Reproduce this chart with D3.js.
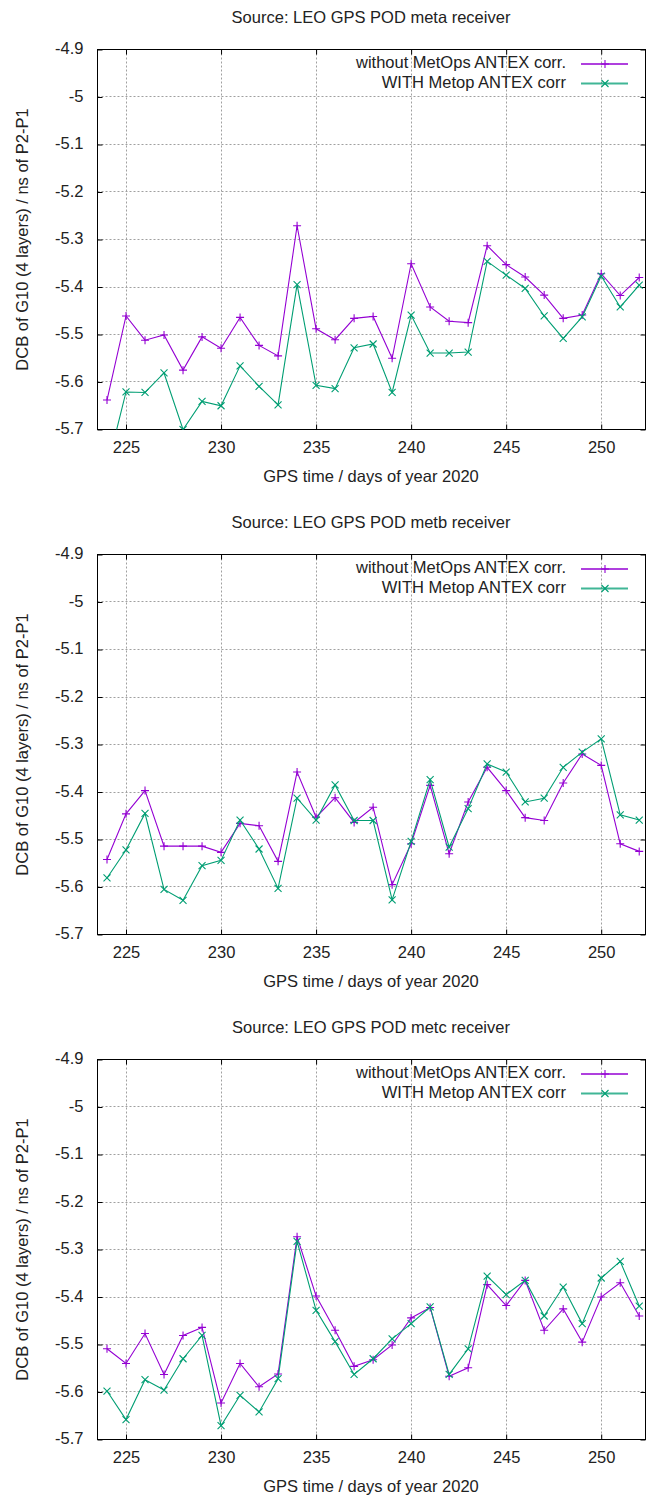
<!DOCTYPE html>
<html>
<head>
<meta charset="utf-8">
<script src="https://cdn.jsdelivr.net/npm/d3@7"></script>
<style>
  body { margin: 0; background: #fff; }
  text { font-family: "Liberation Sans", Arial, sans-serif; font-size: 16.5px; fill: #222; }
</style>
</head>
<body>
<div id="chart"></div>
<script>
// days of year 2020
const days = d3.range(224, 253);

const xTicks = [225, 230, 235, 240, 245, 250];
const yTicks = [-5.7, -5.6, -5.5, -5.4, -5.3, -5.2, -5.1, -5, -4.9];

const seriesNames = ['without MetOps ANTEX corr.', 'WITH Metop ANTEX corr'];
const receivers = ['meta', 'metb', 'metc'];

const metaWithout = [-5.638, -5.461, -5.512, -5.501, -5.575, -5.505, -5.529, -5.464, -5.523, -5.545, -5.271, -5.488, -5.511, -5.466, -5.462, -5.550, -5.351, -5.442, -5.472, -5.475, -5.313, -5.353, -5.379, -5.417, -5.466, -5.459, -5.372, -5.418, -5.380];
const metaWith = [-5.782, -5.621, -5.622, -5.581, -5.700, -5.641, -5.650, -5.566, -5.609, -5.648, -5.395, -5.607, -5.614, -5.528, -5.520, -5.622, -5.459, -5.539, -5.539, -5.537, -5.346, -5.375, -5.403, -5.461, -5.508, -5.463, -5.377, -5.442, -5.396];

const metbWithout = [-5.542, -5.446, -5.397, -5.514, -5.514, -5.514, -5.527, -5.466, -5.471, -5.546, -5.358, -5.453, -5.412, -5.464, -5.432, -5.595, -5.509, -5.386, -5.530, -5.421, -5.348, -5.397, -5.454, -5.460, -5.381, -5.320, -5.344, -5.509, -5.525];
const metbWith = [-5.581, -5.522, -5.445, -5.605, -5.628, -5.555, -5.544, -5.459, -5.520, -5.603, -5.413, -5.459, -5.385, -5.460, -5.460, -5.627, -5.504, -5.374, -5.516, -5.435, -5.341, -5.358, -5.421, -5.413, -5.348, -5.316, -5.288, -5.448, -5.459];

const metcWithout = [-5.509, -5.540, -5.477, -5.563, -5.481, -5.464, -5.623, -5.540, -5.589, -5.562, -5.273, -5.398, -5.470, -5.546, -5.532, -5.501, -5.444, -5.422, -5.567, -5.549, -5.374, -5.418, -5.365, -5.470, -5.425, -5.495, -5.400, -5.370, -5.440];
const metcWith = [-5.598, -5.658, -5.574, -5.596, -5.530, -5.481, -5.671, -5.607, -5.642, -5.572, -5.283, -5.428, -5.494, -5.563, -5.530, -5.488, -5.456, -5.421, -5.563, -5.509, -5.356, -5.395, -5.365, -5.440, -5.379, -5.456, -5.360, -5.325, -5.419];

const PURPLE = '#9400d3';
const GREEN = '#009e73';

const WIDTH = 646, HEIGHT = 1499;
const PLOT = { left: 97.5, right: 645.5, h: 380 };
const TOPS = [49.5, 554.5, 1059.5]; // top border of each panel

const svg = d3.select('#chart')
    .append('svg')
    .attr('width', WIDTH)
    .attr('height', HEIGHT);

const x = d3.scaleLinear()
    .domain([223.5, 252.33])
    .range([PLOT.left, PLOT.right]);

// little marker paths, gnuplot style
const plusPath = (s) => `M${-s},0H${s}M0,${-s}V${s}`;
const crossPath = (s) => `M${-s},${-s}L${s},${s}M${-s},${s}L${s},${-s}`;

// gnuplot writes a plain hyphen, not the unicode minus
const yFormat = d => String(+d.toFixed(1));

const drawPanel = function (i, without, withCorr) {
    const top = TOPS[i];
    const y = d3.scaleLinear()
        .domain([-5.7, -4.9])
        .range([top + PLOT.h, top]);

    const g = svg.append('g');

    // clip so that points below -5.7 are cut at the border
    g.append('clipPath')
        .attr('id', 'clip' + i)
        .append('rect')
        .attr('x', PLOT.left)
        .attr('y', top)
        .attr('width', PLOT.right - PLOT.left)
        .attr('height', PLOT.h);

    //title
    g.append('text')
        .attr('x', 371)
        .attr('y', top - 31)
        .attr('text-anchor', 'middle')
        .attr('dominant-baseline', 'middle')
        .text(`Source: LEO GPS POD ${receivers[i]} receiver`);

    // grid, dotted
    g.append('g')
        .selectAll('line')
        .data(xTicks)
        .enter().append('line')
        .attr('x1', d => Math.round(x(d)) + 0.5)
        .attr('x2', d => Math.round(x(d)) + 0.5)
        .attr('y1', top)
        .attr('y2', top + PLOT.h)
        .attr('stroke', '#a0a0a0')
        .attr('stroke-dasharray', '2,2');

    g.append('g')
        .selectAll('line')
        .data(yTicks.slice(1, -1))
        .enter().append('line')
        .attr('x1', PLOT.left)
        .attr('x2', PLOT.right)
        .attr('y1', d => Math.round(y(d) - 0.5) + 0.5)
        .attr('y2', d => Math.round(y(d) - 0.5) + 0.5)
        .attr('stroke', '#a0a0a0')
        .attr('stroke-dasharray', '2,2');

    // axes with inward ticks, mirrored on top and right
    const xAxis = d3.axisBottom(x).tickValues(xTicks).tickSize(-5).tickFormat(d3.format('d'));
    const yAxis = d3.axisLeft(y).tickValues(yTicks).tickSize(-5).tickFormat(yFormat);

    const gx = g.append('g')
        .attr('transform', `translate(0,${top + PLOT.h})`)
        .call(xAxis);
    const gy = g.append('g')
        .attr('transform', `translate(${PLOT.left},0)`)
        .call(yAxis);
    g.append('g')
        .attr('transform', `translate(0,${top})`)
        .call(d3.axisTop(x).tickValues(xTicks).tickSize(-5).tickFormat(''));
    g.append('g')
        .attr('transform', `translate(${PLOT.right},0)`)
        .call(d3.axisRight(y).tickValues(yTicks).tickSize(-5).tickFormat(''));

    g.selectAll('.domain').remove();
    g.selectAll('.tick line').attr('stroke', '#000');
    gx.selectAll('text').attr('font-size', null).attr('font-family', null).attr('dy', null)
        .attr('y', 19).attr('dominant-baseline', 'middle').style('fill', '#222');
    gy.selectAll('text').attr('font-size', null).attr('font-family', null).attr('dy', null)
        .attr('x', -14).attr('dominant-baseline', 'middle').style('fill', '#222');

    // border
    g.append('rect')
        .attr('x', PLOT.left)
        .attr('y', top)
        .attr('width', PLOT.right - PLOT.left)
        .attr('height', PLOT.h)
        .attr('fill', 'none')
        .attr('stroke', '#000');

    // axis labels
    g.append('text')
        .attr('x', 371)
        .attr('y', top + PLOT.h + 48)
        .attr('text-anchor', 'middle')
        .attr('dominant-baseline', 'middle')
        .text('GPS time / days of year 2020');

    g.append('text')
        .attr('transform', `translate(24,${top + PLOT.h / 2}) rotate(-90)`)
        .attr('text-anchor', 'middle')
        .attr('dominant-baseline', 'middle')
        .text('DCB of G10 (4 layers) / ns of P2-P1');

    // the two series
    const line = d3.line()
        .x((d, k) => x(days[k]))
        .y(d => y(d));

    const series = [
        { values: without, color: PURPLE, marker: plusPath(4) },
        { values: withCorr, color: GREEN, marker: crossPath(3.5) }
    ];

    const plot = g.append('g').attr('clip-path', `url(#clip${i})`);

    series.forEach(s => {
        plot.append('path')
            .datum(s.values)
            .attr('d', line)
            .attr('fill', 'none')
            .attr('stroke', s.color)
            .attr('stroke-width', 1.1);

        plot.append('g')
            .selectAll('path')
            .data(s.values)
            .enter().append('path')
            .attr('transform', (d, k) => `translate(${x(days[k])},${y(d)})`)
            .attr('d', s.marker)
            .attr('stroke', s.color)
            .attr('stroke-width', 1.1);
    });

    // legend, top right
    const legend = g.append('g');
    series.forEach((s, k) => {
        const ly = top + 14.5 + k * 19.5;
        legend.append('text')
            .attr('x', 566)
            .attr('y', ly)
            .attr('text-anchor', 'end')
            .attr('dominant-baseline', 'middle')
            .text(seriesNames[k]);
        legend.append('line')
            .attr('x1', 581)
            .attr('x2', 628)
            .attr('y1', ly)
            .attr('y2', ly)
            .attr('stroke', s.color)
            .attr('stroke-opacity', 0.75)
            .attr('stroke-width', 2);
        legend.append('path')
            .attr('transform', `translate(605,${ly})`)
            .attr('d', s.marker)
            .attr('stroke', s.color)
            .attr('stroke-width', 1.1);
    });
};

drawPanel(0, metaWithout, metaWith);
drawPanel(1, metbWithout, metbWith);
drawPanel(2, metcWithout, metcWith);
</script>
</body>
</html>
